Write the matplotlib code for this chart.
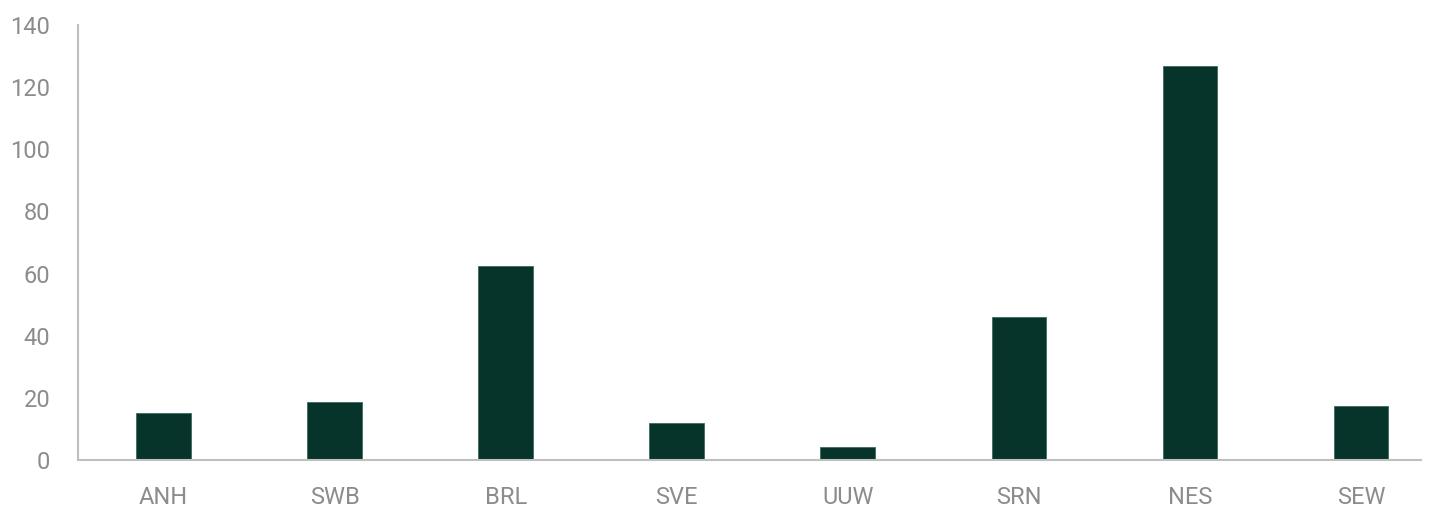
import matplotlib
matplotlib.use('Agg')
import matplotlib.pyplot as plt

# data
companies = ['ANH', 'SWB', 'BRL', 'SVE', 'UUW', 'SRN', 'NES', 'SEW']
values = [15.0, 18.6, 62.5, 11.8, 4.2, 46.0, 126.8, 17.3]
yticks = [0, 20, 40, 60, 80, 100, 120, 140]

bar_color = '#06332a'
axis_color = '#bfbfbf'
label_color = '#8c8c8c'

plt.rcParams['font.family'] = ['Roboto', 'DejaVu Sans']

fig = plt.figure(figsize=(14.36, 5.08), dpi=100)
ax = fig.add_axes([0.0543, 0.0945, 0.9352, 0.8563])

x = range(len(companies))
ax.bar(x, values, width=0.32, color=bar_color, edgecolor='#3d6b60', linewidth=0.6)

ax.set_xlim(-0.5, len(companies) - 0.65)
ax.set_ylim(0, 140)
ax.set_yticks(yticks)
ax.set_xticks(list(x))
ax.set_xticklabels(companies)

for s in ['top', 'right']:
    ax.spines[s].set_visible(False)
ax.spines['left'].set_color(axis_color)
ax.spines['bottom'].set_color(axis_color)
ax.spines['left'].set_linewidth(1.5)
ax.spines['bottom'].set_linewidth(1.5)

ax.tick_params(axis='both', length=0, labelsize=17, labelcolor=label_color)
ax.tick_params(axis='y', pad=20)
ax.tick_params(axis='x', pad=19)

fig.savefig('out.png', dpi=100, facecolor='white')
